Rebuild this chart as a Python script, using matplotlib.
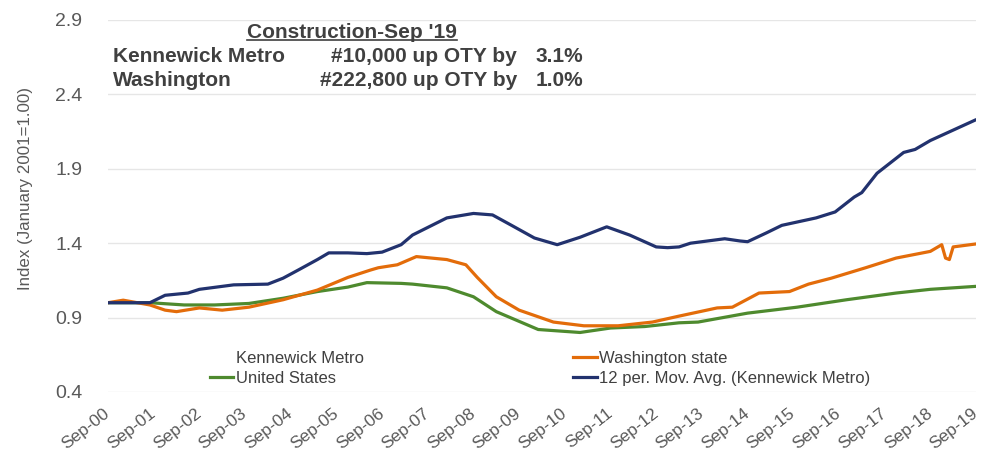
import matplotlib.pyplot as plt
from matplotlib.lines import Line2D

# months since Sep-00
ma_months = [0, 11, 15, 21, 24, 33, 42, 46, 50, 55, 58, 63, 68, 72, 77, 80, 89, 96, 101, 106,
             112, 118, 124, 131, 137, 144, 147, 150, 153, 162, 166, 168, 173, 177, 186, 191,
             196, 198, 202, 209, 212, 216, 222, 228]
ma_vals = [1.0, 1.0, 1.05, 1.065, 1.09, 1.12, 1.125, 1.165, 1.22, 1.29, 1.335, 1.335, 1.33, 1.34,
           1.39, 1.455, 1.57, 1.60, 1.59, 1.52, 1.435, 1.39, 1.44, 1.51, 1.455, 1.375, 1.37,
           1.375, 1.40, 1.43, 1.415, 1.41, 1.47, 1.52, 1.57, 1.61, 1.71, 1.74, 1.87, 2.01,
           2.03, 2.09, 2.16, 2.23]

wa_months = [0, 4, 11, 15, 18, 24, 30, 37, 46, 55, 63, 69, 71, 76, 81, 89, 94, 97, 102, 108,
             117, 125, 134, 143, 150, 160, 164, 171, 179, 184, 190, 199, 207, 216, 219, 220,
             221, 222, 228]
wa_vals = [1.0, 1.017, 0.985, 0.95, 0.94, 0.965, 0.95, 0.97, 1.02, 1.085, 1.17, 1.22, 1.235,
           1.255, 1.31, 1.29, 1.255, 1.17, 1.04, 0.95, 0.87, 0.845, 0.845, 0.87, 0.91, 0.965,
           0.97, 1.065, 1.075, 1.125, 1.165, 1.235, 1.30, 1.345, 1.39, 1.30, 1.29, 1.375,
           1.395]

us_months = [0, 11, 20, 28, 37, 46, 55, 63, 68, 77, 80, 89, 96, 102, 113, 124, 132, 141, 150,
             155, 168, 181, 194, 207, 216, 228]
us_vals = [1.0, 1.0, 0.985, 0.985, 0.995, 1.03, 1.075, 1.105, 1.135, 1.13, 1.125, 1.10, 1.04,
           0.94, 0.82, 0.80, 0.83, 0.84, 0.865, 0.87, 0.93, 0.97, 1.02, 1.065, 1.09, 1.11]

tick_labels = ['Sep-%02d' % y for y in range(0, 20)]
y_ticks = [0.4, 0.9, 1.4, 1.9, 2.4, 2.9]

navy = '#22326E'
orange = '#E36C0A'
green = '#4E8A2E'
gray = '#595959'
dark = '#404040'

plt.rcParams['font.family'] = ['Liberation Sans', 'DejaVu Sans']

W, H = 982, 458
fig = plt.figure(figsize=(W / 100, H / 100), dpi=100)
ax = fig.add_axes([108 / W, 1 - 392 / H, 868 / W, 372 / H])

ax.plot(us_months, us_vals, color=green, lw=2.3, solid_capstyle='round')
ax.plot(wa_months, wa_vals, color=orange, lw=2.3, solid_capstyle='round')
ax.plot(ma_months, ma_vals, color=navy, lw=2.3, solid_capstyle='round')

ax.set_xlim(0, 228)
ax.set_ylim(0.4, 2.9)
ax.set_yticks(y_ticks)
ax.set_yticklabels(['%.1f' % v for v in y_ticks], fontsize=14, color=gray)
ax.set_xticks(range(0, 229, 12))
ax.set_xticklabels(tick_labels, fontsize=12.5, color=gray, rotation=38,
                   ha='right', va='center', rotation_mode='anchor')
ax.tick_params(axis='both', length=0)
ax.tick_params(axis='y', pad=18.5)
ax.tick_params(axis='x', pad=14)
for s in ax.spines.values():
    s.set_visible(False)
ax.grid(axis='y', color='#E6E6E6', lw=1)
ax.set_axisbelow(True)

ax.set_ylabel('Index (January 2001=1.00)', fontsize=12.2, color=gray)
ax.yaxis.set_label_coords(-75 / 868, 0.548)

# legend
handles = [Line2D([], [], color='none', label='Kennewick Metro'),
           Line2D([], [], color=green, lw=2.3, label='United States'),
           Line2D([], [], color=orange, lw=2.3, label='Washington state'),
           Line2D([], [], color=navy, lw=2.3, label='12 per. Mov. Avg. (Kennewick Metro)')]
leg = fig.legend(handles=handles, ncol=2, loc='upper left',
                 bbox_to_anchor=(203 / W, 1 - 344 / H), frameon=False,
                 fontsize=12, handlelength=1.4, handletextpad=0.15,
                 columnspacing=12.6, labelspacing=0.3, borderaxespad=0)
for t in leg.get_texts():
    t.set_color(dark)

# annotation block
title = fig.text(352 / W, 1 - 32 / H, "Construction-Sep '19", fontsize=15, weight='bold',
                 color=dark, ha='center', va='center')
rows = [('Kennewick Metro', '#10,000 up OTY by', '3.1%', 57),
        ('Washington', '#222,800 up OTY by', '1.0%', 80)]
for name, num, pct, y in rows:
    fig.text(113 / W, 1 - y / H, name, fontsize=15, weight='bold', color=dark,
             ha='left', va='center')
    fig.text(517 / W, 1 - y / H, num, fontsize=15, weight='bold', color=dark,
             ha='right', va='center')
    fig.text(583 / W, 1 - y / H, pct, fontsize=15, weight='bold', color=dark,
             ha='right', va='center')

fig.canvas.draw()
bb = title.get_window_extent().transformed(fig.transFigure.inverted())
fig.add_artist(Line2D([bb.x0, bb.x1], [bb.y0 + 0.004, bb.y0 + 0.004], color=dark, lw=1.2,
                      transform=fig.transFigure))

fig.savefig('out.png', dpi=100)
